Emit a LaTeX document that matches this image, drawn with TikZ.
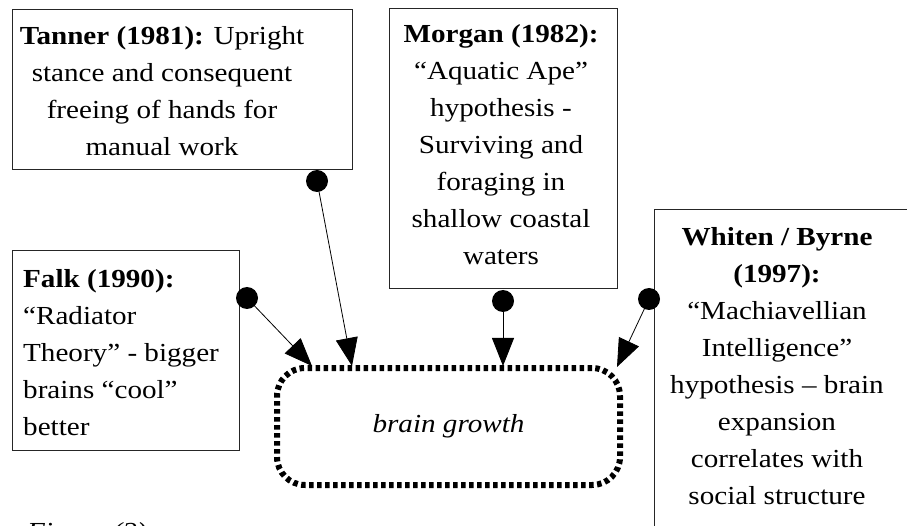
\documentclass[tikz,border=0pt]{standalone}
\usepackage{fontspec}
\setmainfont{Liberation Serif}[FakeStretch=1.12]
\usetikzlibrary{arrows.meta}
\begin{document}
\begin{tikzpicture}[x=1pt,y=-1pt,
  txt/.style={font=\fontsize{26}{37}\selectfont, inner sep=0pt},
  frame/.style={draw=black!85, line width=1pt, inner sep=0pt, anchor=north west},
  dot/.style={circle, fill=black, inner sep=0pt, minimum size=22pt},
  link/.style={line width=0.8pt, -{Triangle[length=28pt,width=22pt]}},
  brainbox/.style={draw, line width=6pt, dash pattern=on 4.5pt off 3.5pt, rounded corners=28pt,
    minimum width=343pt, minimum height=117pt, font=\fontsize{26}{37}\selectfont\itshape}
]
\clip (0,0) rectangle (907,526);
\fill[white] (0,0) rectangle (907,526);

% boxes
\node[frame, minimum width=340pt, minimum height=160pt] (tannerbox) at (12,9) {};
\node[frame, minimum width=228pt, minimum height=280pt] (morganbox) at (389,8) {};
\node[frame, minimum width=227pt, minimum height=200pt] (falkbox) at (12,250) {};
\node[frame, minimum width=280pt, minimum height=360pt] (whitenbox) at (654,209) {};

% texts (anchor = baseline of the last line)
\node[txt, align=center, anchor=base] (tanner) at (162,156)
  {\textbf{Tanner (1981):} Upright\\stance and consequent\\freeing of hands for\\manual work};
\node[txt, align=center, anchor=base] (morgan) at (501,265)
  {\textbf{Morgan (1982):}\\“Aquatic Ape”\\hypothesis -\\Surviving and\\foraging in\\shallow coastal\\waters};
\node[txt, align=left, anchor=base west] (falk) at (23,435)
  {\textbf{Falk (1990):}\\“Radiator\\Theory” - bigger\\brains “cool”\\better};
\node[txt, align=center, anchor=base] (whiten) at (777,504)
  {\textbf{Whiten / Byrne}\\\textbf{(1997):}\\“Machiavellian\\Intelligence”\\hypothesis – brain\\expansion\\correlates with\\social structure};

% central node
\node[brainbox] (brain) at (448.5,426.5) {brain growth};

% dots
\node[dot] (dtanner) at (317,181) {};
\node[dot] (dmorgan) at (503,301) {};
\node[dot] (dwhiten) at (649,299) {};
\node[dot] (dfalk) at (247,298) {};

% targets
\coordinate (tfalk) at (312,366);
\coordinate (ttanner) at (352,366);
\coordinate (tmorgan) at (503,366);
\coordinate (twhiten) at (617,367);

\draw[link] (dfalk.center) -- (tfalk);
\draw[link] (dtanner.center) -- (ttanner);
\draw[link] (dmorgan.center) -- (tmorgan);
\draw[link] (dwhiten.center) -- (twhiten);

% caption (cut off by the lower edge, as in the reference)
\node[txt, anchor=base west, font=\fontsize{26}{37}\selectfont\itshape] (caption) at (27,540) {Figure (2)};
\end{tikzpicture}
\end{document}
